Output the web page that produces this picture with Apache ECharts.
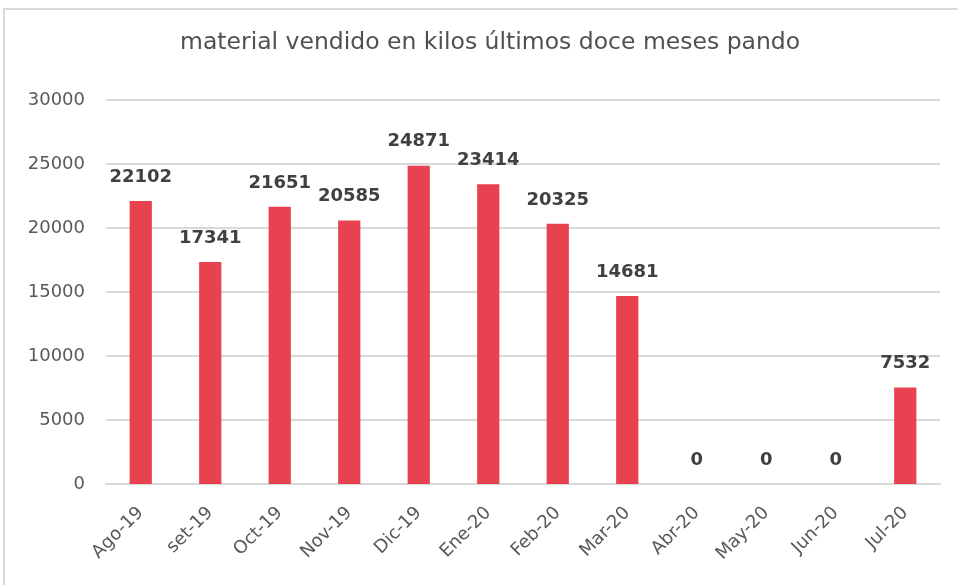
<!DOCTYPE html>
<html>
<head>
<meta charset="utf-8">
<script src="https://cdn.jsdelivr.net/npm/echarts@6/dist/echarts.min.js"></script>
<style>
    html, body { margin: 0; padding: 0; background: #ffffff; }
    #chart_kilos { width: 958px; height: 585px; }
</style>
</head>
<body>
<div id="chart_kilos"></div>
<script>
// 柱状图 - material vendido en kilos

var meses = ['Ago-19', 'set-19', 'Oct-19', 'Nov-19', 'Dic-19', 'Ene-20', 'Feb-20', 'Mar-20', 'Abr-20', 'May-20', 'Jun-20', 'Jul-20'];
var kilos = [22102, 17341, 21651, 20585, 24871, 23414, 20325, 14681, 0, 0, 0, 7532];
var yMin = 0, yMax = 30000, yPaso = 5000;

function load_bar_kilos() {
    var bar_kilos = echarts.init(document.getElementById('chart_kilos'));

    var option_bar_kilos = {
        animation: false,
        title: {
            text: 'material vendido en kilos últimos doce meses pando',
            left: 180,
            top: 31,
            padding: 0,
            textStyle: {
                color: '#505050',
                fontFamily: 'DejaVu Sans',
                fontWeight: 'normal',
                fontSize: 23.5
            }
        },
        // 外框 (上边和左边)
        graphic: [{
            type: 'line',
            shape: { x1: 3.5, y1: 9, x2: 958, y2: 9 },
            style: { stroke: '#d9d9d9', lineWidth: 2 },
            silent: true
        }, {
            type: 'line',
            shape: { x1: 4, y1: 8.5, x2: 4, y2: 585 },
            style: { stroke: '#d9d9d9', lineWidth: 2 },
            silent: true
        }],
        grid: {
            left: 106,
            right: 18,
            top: 100,
            bottom: 101
        },
        xAxis: {
            type: 'category',
            data: meses,
            axisTick: { show: false },
            axisLine: {
                lineStyle: { color: '#d9d9d9', width: 2 }
            },
            axisLabel: {
                rotate: 45,
                margin: 26,
                interval: 0,
                color: '#595959',
                fontFamily: 'DejaVu Sans',
                fontSize: 18
            }
        },
        yAxis: {
            type: 'value',
            min: yMin,
            max: yMax,
            interval: yPaso,
            axisLine: { show: false },
            axisTick: { show: false },
            splitLine: {
                lineStyle: { color: '#d9d9d9', width: 2 }
            },
            axisLabel: {
                margin: 21,
                color: '#595959',
                fontFamily: 'DejaVu Sans',
                fontSize: 18,
                formatter: function (v) { return String(v); } // 不要千位分隔符
            }
        },
        series: [{
            name: 'kilos',
            type: 'bar',
            data: kilos,
            barWidth: '32%',
            itemStyle: { color: '#e8414f' },
            label: {
                show: true,
                position: 'top',
                distance: 15,
                color: '#404040',
                fontFamily: 'DejaVu Sans',
                fontWeight: 'bold',
                fontSize: 18
            }
        }]
    };

    bar_kilos.setOption(option_bar_kilos, true);
}

load_bar_kilos();
</script>
</body>
</html>
